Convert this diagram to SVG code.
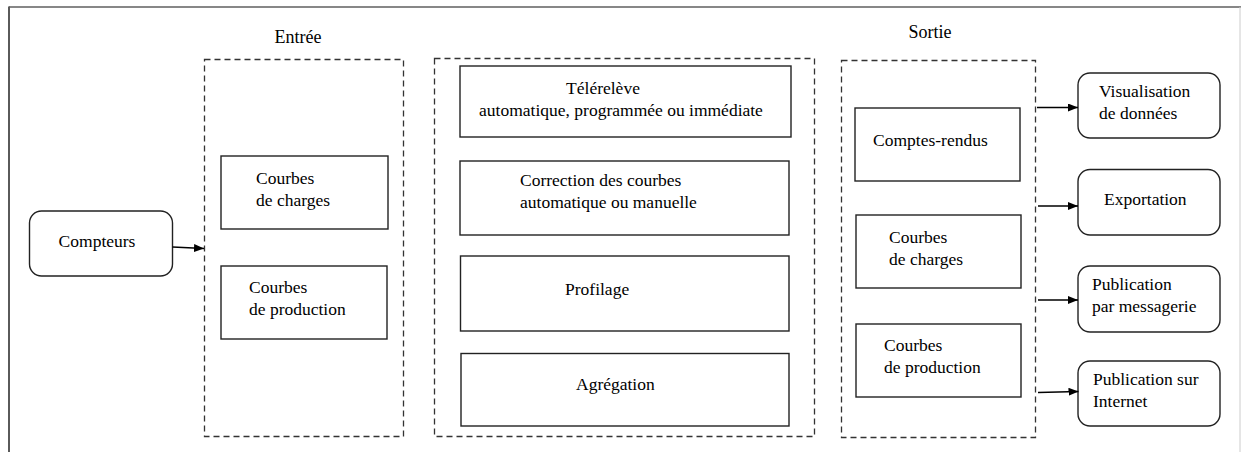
<svg xmlns="http://www.w3.org/2000/svg" width="1241" height="452" viewBox="0 0 1241 452">
<style>
text{font-family:"Liberation Serif","Times New Roman",serif;font-size:17.5px;fill:#000}
.lbl{font-size:18px}
.box{fill:#fff;stroke:#222;stroke-width:1.4}
.rbox{fill:#fff;stroke:#222;stroke-width:1.4}
.dash{fill:none;stroke:#333;stroke-width:1.3;stroke-dasharray:6 4}
.conn{stroke:#000;stroke-width:1.3;fill:none;marker-end:url(#ah)}
</style>
<defs>
<marker id="ah" viewBox="0 0 10 8" refX="10" refY="4" markerWidth="10" markerHeight="8" markerUnits="userSpaceOnUse" orient="auto">
<path d="M0,0 L10,4 L0,8 Z" fill="#000"/>
</marker>
</defs>
<rect width="1241" height="452" fill="#fff"/>
<g id="frame">
<line x1="9" y1="7" x2="1241" y2="7" stroke="#111" stroke-width="1.2"/>
<line x1="9" y1="6.5" x2="9" y2="452" stroke="#5a5a5a" stroke-width="2"/>
<line x1="1240" y1="7" x2="1240" y2="452" stroke="#ccc" stroke-width="1"/>
</g>
<g id="entree">
<text class="lbl" x="298" y="43" text-anchor="middle">Entrée</text>
<rect class="dash" x="204.5" y="59.5" width="199" height="377"/>
</g>
<g id="milieu">
<rect class="dash" x="434.5" y="58.5" width="380" height="378"/>
</g>
<g id="sortie">
<text class="lbl" x="930" y="38" text-anchor="middle">Sortie</text>
<rect class="dash" x="841.5" y="60.5" width="194" height="377"/>
</g>
<g id="compteurs">
<rect class="rbox" x="29.5" y="211" width="143" height="65" rx="12"/>
<text x="97" y="247" text-anchor="middle">Compteurs</text>
</g>
<g id="entree-charges">
<rect class="box" x="221" y="156" width="167" height="73"/>
<text x="256" y="184">Courbes</text>
<text x="256" y="206">de charges</text>
</g>
<g id="entree-production">
<rect class="box" x="221" y="266" width="166" height="73"/>
<text x="249" y="293">Courbes</text>
<text x="249" y="315">de production</text>
</g>
<g id="telereleve">
<rect class="box" x="460" y="66" width="331" height="71"/>
<text x="603" y="94" text-anchor="middle">Télérelève</text>
<text x="621" y="116" text-anchor="middle">automatique, programmée ou immédiate</text>
</g>
<g id="correction">
<rect class="box" x="460" y="161" width="329" height="74"/>
<text x="520" y="186">Correction des courbes</text>
<text x="520" y="208">automatique ou manuelle</text>
</g>
<g id="profilage">
<rect class="box" x="460.5" y="256" width="328.5" height="75"/>
<text x="565" y="295">Profilage</text>
</g>
<g id="agregation">
<rect class="box" x="461" y="353.5" width="328" height="72.5"/>
<text x="576" y="390">Agrégation</text>
</g>
<g id="comptes-rendus">
<rect class="box" x="855" y="108" width="165" height="73"/>
<text x="873" y="146">Comptes-rendus</text>
</g>
<g id="sortie-charges">
<rect class="box" x="856" y="215" width="165" height="73"/>
<text x="889" y="243">Courbes</text>
<text x="889" y="265">de charges</text>
</g>
<g id="sortie-production">
<rect class="box" x="856" y="324" width="165" height="73"/>
<text x="884" y="351">Courbes</text>
<text x="884" y="373">de production</text>
</g>
<g id="visualisation">
<rect class="rbox" x="1078" y="73" width="142" height="65" rx="12"/>
<text x="1099" y="97">Visualisation</text>
<text x="1099" y="119">de données</text>
</g>
<g id="exportation">
<rect class="rbox" x="1078" y="169.5" width="142" height="65.5" rx="12"/>
<text x="1104" y="205">Exportation</text>
</g>
<g id="messagerie">
<rect class="rbox" x="1078" y="266" width="142" height="66" rx="12"/>
<text x="1092" y="290">Publication</text>
<text x="1092" y="312">par messagerie</text>
</g>
<g id="internet">
<rect class="rbox" x="1078" y="361" width="142" height="65" rx="12"/>
<text x="1093" y="385">Publication sur</text>
<text x="1093" y="407">Internet</text>
</g>
<g id="connectors">
<line class="conn" x1="172.5" y1="247" x2="204" y2="248.5"/>
<line class="conn" x1="1037" y1="107.5" x2="1078" y2="107.5"/>
<line class="conn" x1="1038" y1="206" x2="1078" y2="206"/>
<line class="conn" x1="1038" y1="300" x2="1078" y2="300"/>
<line class="conn" x1="1038" y1="392.5" x2="1078.5" y2="391.5"/>
</g>
</svg>
